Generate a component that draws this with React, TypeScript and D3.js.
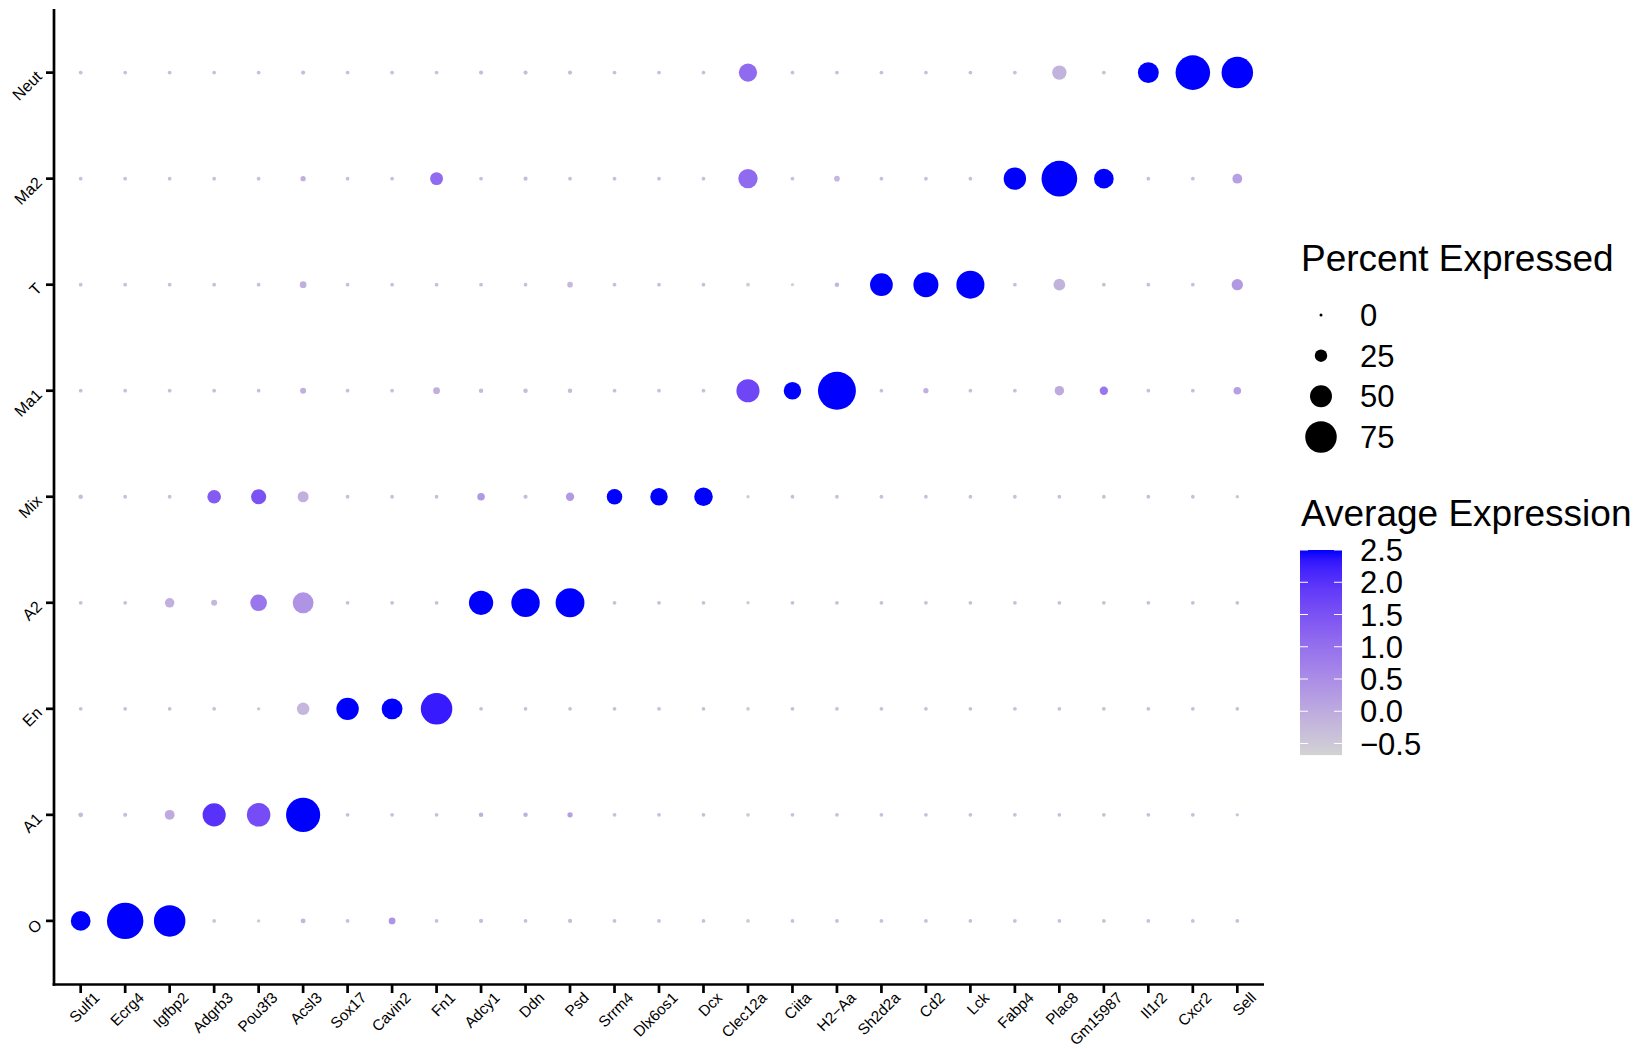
import React from 'react';
import * as d3 from 'd3';

// ---------------- data ----------------
const genes = [
  'Sulf1', 'Ecrg4', 'Igfbp2', 'Adgrb3', 'Pou3f3', 'Acsl3', 'Sox17', 'Cavin2', 'Fn1',
  'Adcy1', 'Ddn', 'Psd', 'Srrm4', 'Dlx6os1', 'Dcx', 'Clec12a', 'Ciita', 'H2\u2212Aa',
  'Sh2d2a', 'Cd2', 'Lck', 'Fabp4', 'Plac8', 'Gm15987', 'Il1r2', 'Cxcr2', 'Sell',
];

// top to bottom
const clusters = ['Neut', 'Ma2', 'T', 'Ma1', 'Mix', 'A2', 'En', 'A1', 'O'];

// Percent expressed, one array per cluster (gene order as above)
const pctNeut = [2, 2, 2, 2, 2, 3, 2, 2, 2, 3, 3, 3, 2, 2, 2, 40, 2, 2, 2, 2, 2, 2, 30, 2, 47, 83, 75];
const pctMa2 = [2, 2, 2, 2, 2, 6, 2, 2, 26, 2, 3, 2, 2, 2, 2, 43, 2, 7, 2, 2, 2, 51, 86, 44, 2, 2, 18];
const pctT = [2, 2, 2, 2, 2, 10, 2, 2, 2, 2, 2, 7, 2, 2, 2, 2, 1, 4, 52, 58, 66, 2, 23, 2, 2, 2, 22];
const pctMa1 = [2, 2, 2, 2, 2, 8, 2, 2, 10, 4, 4, 4, 2, 2, 2, 53, 38, 92, 2, 6, 2, 2, 17, 14, 2, 2, 12];
const pctMix = [4, 2, 2, 28, 32, 21, 2, 2, 2, 12, 3, 14, 33, 38, 41, 1, 2, 2, 2, 2, 2, 2, 2, 2, 2, 2, 1];
const pctA2 = [2, 2, 17, 8, 36, 47, 2, 2, 2, 56, 67, 68, 2, 2, 2, 1, 2, 2, 2, 2, 2, 2, 2, 2, 2, 2, 2];
const pctEn = [2, 2, 2, 2, 1, 25, 51, 47, 75, 2, 2, 2, 2, 2, 2, 2, 2, 2, 2, 2, 2, 2, 2, 2, 2, 2, 2];
const pctA1 = [5, 3, 18, 53, 54, 82, 2, 2, 2, 4, 4, 6, 2, 2, 2, 2, 2, 2, 2, 2, 2, 2, 2, 2, 2, 2, 1];
const pctO = [44, 88, 75, 2, 1, 5, 2, 10, 2, 3, 2, 3, 2, 2, 2, 2, 2, 2, 2, 2, 2, 2, 2, 2, 2, 2, 2];

// Average expression (scaled), one array per cluster
const expNeut = [-0.35, -0.35, -0.35, -0.35, -0.35, -0.3, -0.35, -0.35, -0.4, -0.3, -0.3, -0.3, -0.35, -0.35, -0.35, 1.1, -0.35, -0.35, -0.35, -0.35, -0.35, -0.35, -0.15, -0.35, 2.5, 2.5, 2.5];
const expMa2 = [-0.35, -0.35, -0.35, -0.35, -0.35, -0.1, -0.35, -0.35, 1.1, -0.35, -0.3, -0.35, -0.35, -0.35, -0.35, 1.1, -0.35, -0.2, -0.35, -0.35, -0.35, 2.5, 2.5, 2.5, -0.35, -0.35, 0.2];
const expT = [-0.35, -0.35, -0.35, -0.35, -0.35, -0.1, -0.35, -0.35, -0.35, -0.35, -0.35, -0.25, -0.35, -0.35, -0.35, -0.55, -0.68, -0.2, 2.5, 2.5, 2.5, -0.35, -0.15, -0.35, -0.35, -0.35, 0.3];
const expMa1 = [-0.35, -0.35, -0.35, -0.35, -0.35, -0.1, -0.35, -0.35, -0.1, -0.3, -0.3, -0.3, -0.35, -0.35, -0.35, 1.7, 2.5, 2.5, -0.35, -0.1, -0.35, -0.35, 0.0, 0.9, -0.35, -0.35, 0.2];
const expMix = [-0.3, -0.35, -0.35, 1.35, 1.5, -0.1, -0.35, -0.35, -0.35, 0.3, -0.3, 0.3, 2.5, 2.5, 2.5, -0.55, -0.35, -0.35, -0.35, -0.35, -0.35, -0.35, -0.35, -0.35, -0.35, -0.35, -0.4];
const expA2 = [-0.35, -0.35, -0.1, -0.2, 0.9, 0.4, -0.35, -0.35, -0.35, 2.5, 2.5, 2.5, -0.35, -0.35, -0.35, -0.55, -0.35, -0.35, -0.35, -0.35, -0.35, -0.35, -0.35, -0.35, -0.35, -0.35, -0.35];
const expEn = [-0.35, -0.35, -0.35, -0.35, -0.45, -0.2, 2.5, 2.5, 2.3, -0.35, -0.35, -0.35, -0.35, -0.35, -0.35, -0.55, -0.35, -0.35, -0.35, -0.35, -0.35, -0.35, -0.35, -0.35, -0.35, -0.35, -0.35];
const expA1 = [-0.3, -0.35, 0.0, 2.0, 1.6, 2.5, -0.35, -0.35, -0.35, -0.1, -0.1, 0.2, -0.35, -0.35, -0.35, -0.55, -0.35, -0.35, -0.35, -0.35, -0.35, -0.35, -0.35, -0.35, -0.35, -0.35, -0.4];
const expO = [2.5, 2.5, 2.5, -0.4, -0.5, -0.2, -0.35, 0.4, -0.35, -0.3, -0.35, -0.3, -0.35, -0.35, -0.35, -0.55, -0.35, -0.3, -0.35, -0.35, -0.35, -0.35, -0.35, -0.35, -0.35, -0.35, -0.35];

const pctRows = [pctNeut, pctMa2, pctT, pctMa1, pctMix, pctA2, pctEn, pctA1, pctO];
const expRows = [expNeut, expMa2, expT, expMa1, expMix, expA2, expEn, expA1, expO];

const sizeBreaks = [0, 25, 50, 75];
const colorBreaks = [-0.5, 0, 0.5, 1, 1.5, 2, 2.5];

// ---------------- layout ----------------
const W = 1639;
const H = 1049;
const panel = { left: 54, right: 1264, top: 9, bottom: 984.5 };
const FONT = '"Liberation Sans", Arial, Helvetica, sans-serif';

export default function App() {
  const x = d3.scalePoint<string>().domain(genes).range([panel.left, panel.right]).padding(0.6);
  const y = d3.scalePoint<string>().domain(clusters).range([panel.top, panel.bottom]).padding(0.6);

  const allExp = expRows.flat();
  const expMin = d3.min(allExp) as number;
  const expMax = d3.max(allExp) as number;

  const color = d3
    .scaleLinear<string>()
    .domain([expMin, expMax])
    .range(['#D3D3D3', '#0000FF'])
    .interpolate(d3.interpolateLab);

  const radius = d3.scaleLinear().domain([0, 100]).range([1.5, 20.5]);

  const cells: { g: string; c: string; p: number; e: number }[] = [];
  clusters.forEach((c, i) => {
    genes.forEach((g, j) => {
      cells.push({ g, c, p: pctRows[i][j], e: expRows[i][j] });
    });
  });

  // legend geometry
  const legX = 1301;
  const sizeY = d3.scalePoint<number>().domain(sizeBreaks).range([315, 437]);
  const barTop = 550;
  const barPxPerUnit = 64.5;
  const barBottom = barTop + (expMax - expMin) * barPxPerUnit;
  const barScale = d3.scaleLinear().domain([expMin, expMax]).range([barBottom, barTop]);
  const barX = 1300;
  const barW = 42;
  const labX = 1360;
  const gradStops = d3.range(0, 1.0001, 0.05).map((t) => ({
    off: t,
    col: color(expMin + t * (expMax - expMin)),
  }));

  const fmt = (v: number) => (v < 0 ? '\u2212' + Math.abs(v).toFixed(1) : v.toFixed(1));

  return (
    <svg
      width={W}
      height={H}
      style={{ position: 'absolute', left: 0, top: 0, background: '#fff' }}
      fontFamily={FONT}
    >
      <rect x={0} y={0} width={W} height={H} fill="#fff" />
      {/* dots */}
      {cells.map((d, i) => (
        <circle
          key={i}
          cx={x(d.g)}
          cy={y(d.c)}
          r={radius(d.p)}
          fill={color(d.e)}
        />
      ))}

      {/* axes */}
      <line x1={panel.left} x2={panel.left} y1={panel.top} y2={panel.bottom + 1.35} stroke="#000" strokeWidth={2.7} />
      <line x1={panel.left - 1.35} x2={panel.right} y1={panel.bottom} y2={panel.bottom} stroke="#000" strokeWidth={2.7} />

      {clusters.map((c) => (
        <g key={c}>
          <line x1={panel.left - 8} x2={panel.left} y1={y(c)} y2={y(c)} stroke="#000" strokeWidth={2.7} />
          <text
            transform={`translate(${panel.left - 15},${(y(c) as number) + 1}) rotate(-45)`}
            textAnchor="end"
            dy="0.35em"
            fontSize={16}
            fill="#000"
          >
            {c}
          </text>
        </g>
      ))}

      {genes.map((g) => (
        <g key={g}>
          <line x1={x(g)} x2={x(g)} y1={panel.bottom} y2={panel.bottom + 8.5} stroke="#000" strokeWidth={2.7} />
          <text
            transform={`translate(${(x(g) as number) + 16},${panel.bottom + 10.5}) rotate(-45)`}
            textAnchor="end"
            dy="0.35em"
            fontSize={15.3}
            fill="#000"
          >
            {g}
          </text>
        </g>
      ))}

      {/* size legend */}
      <text x={legX} y={271} fontSize={37} fill="#000">Percent Expressed</text>
      {sizeBreaks.map((b) => (
        <g key={b}>
          <circle cx={1321} cy={sizeY(b)} r={radius(b)} fill="#000" />
          <text x={labX} y={sizeY(b)} dy="0.36em" fontSize={31} fill="#000">{b}</text>
        </g>
      ))}

      {/* color legend */}
      <text x={legX} y={526} fontSize={37} fill="#000">Average Expression</text>
      <defs>
        <linearGradient id="cbar" x1="0" y1="1" x2="0" y2="0">
          {gradStops.map((s, i) => (
            <stop key={i} offset={s.off} stopColor={s.col} />
          ))}
        </linearGradient>
      </defs>
      <rect x={barX} y={barTop} width={barW} height={barBottom - barTop} fill="url(#cbar)" />
      {colorBreaks.map((b) => (
        <g key={b}>
          <line x1={barX} x2={barX + 8} y1={barScale(b)} y2={barScale(b)} stroke="#fff" strokeWidth={1} />
          <line x1={barX + barW - 8} x2={barX + barW} y1={barScale(b)} y2={barScale(b)} stroke="#fff" strokeWidth={1} />
          <text x={labX} y={barScale(b)} dy="0.36em" fontSize={31} fill="#000">{fmt(b)}</text>
        </g>
      ))}
    </svg>
  );
}
